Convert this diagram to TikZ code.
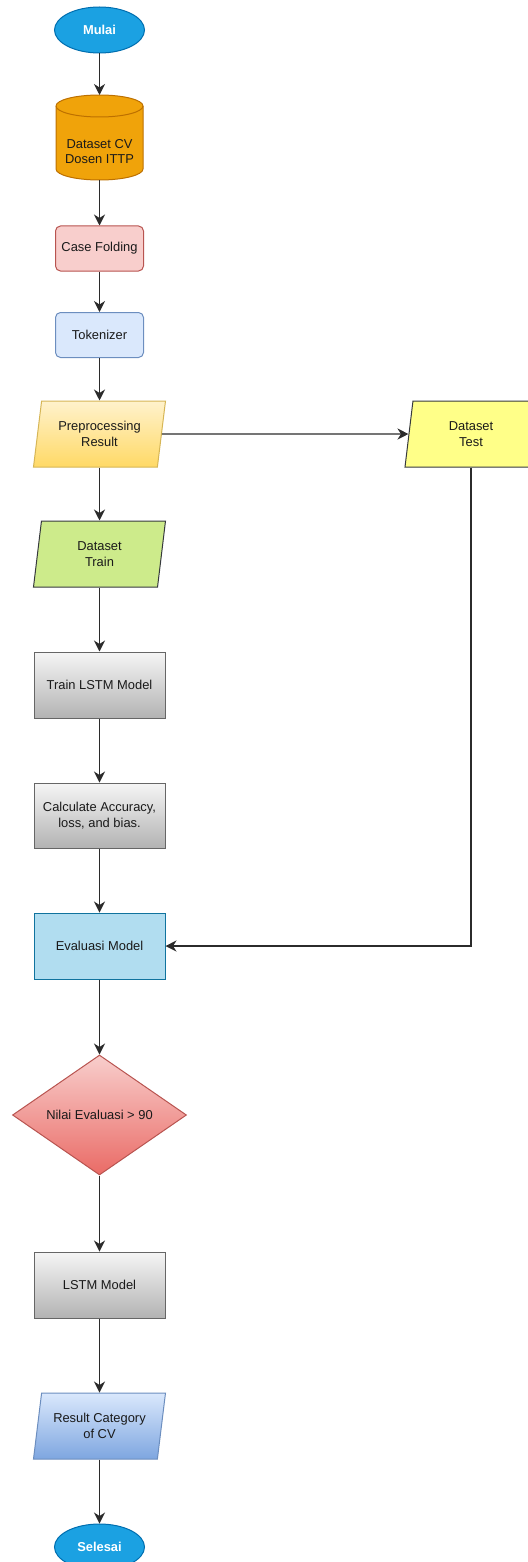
\documentclass[tikz,border=0pt]{standalone}
\usepackage{fontspec}
\setmainfont{Liberation Sans}
\usetikzlibrary{shapes.geometric,arrows.meta}

% palette
\definecolor{termfill}{HTML}{1BA1E2}\definecolor{termline}{HTML}{006EAF}
\definecolor{dbfill}{HTML}{F0A30A}\definecolor{dbline}{HTML}{BD7000}
\definecolor{redfill}{HTML}{F8CECC}\definecolor{redline}{HTML}{B85450}
\definecolor{bluefill}{HTML}{DAE8FC}\definecolor{blueline}{HTML}{6C8EBF}
\definecolor{yelltop}{HTML}{FFF2CC}\definecolor{yellbot}{HTML}{FFD966}\definecolor{yellline}{HTML}{D6B656}
\definecolor{testfill}{HTML}{FFFF88}\definecolor{darkline}{HTML}{36393D}
\definecolor{trainfill}{HTML}{CDEB8B}
\definecolor{graytop}{HTML}{F5F5F5}\definecolor{graybot}{HTML}{B3B3B3}\definecolor{grayline}{HTML}{666666}
\definecolor{evalfill}{HTML}{B1DDF0}\definecolor{evalline}{HTML}{10739E}
\definecolor{diabot}{HTML}{EA6B66}
\definecolor{resbot}{HTML}{7EA6E0}
\definecolor{txt}{HTML}{1A1A1A}
\definecolor{wire}{HTML}{2B2B2B}

\begin{document}
\begin{tikzpicture}[x=1pt,y=1pt,
  every node/.style={font=\fontsize{12.9}{15.5}\selectfont, text=txt, align=center, inner sep=0pt, line width=1pt},
  terminal/.style={ellipse, draw=termline, fill=termfill, minimum width=90pt, minimum height=46pt, text=white, font=\fontsize{12.9}{15.5}\selectfont\bfseries},
  procbox/.style={rectangle, rounded corners=5pt, minimum width=88pt, minimum height=45pt},
  grayproc/.style={rectangle, draw=grayline, top color=graytop, bottom color=graybot, minimum width=131pt, minimum height=66pt},
  iobox/.style={trapezium, trapezium left angle=72, trapezium right angle=108, trapezium stretches body=true, minimum width=132pt, minimum height=66pt},
  decision/.style={diamond, draw=redline, top color=redfill, bottom color=diabot, minimum width=174pt, minimum height=120pt, aspect=1.45},
  flow/.style={draw=wire, line width=1.2pt, -{Stealth[length=11pt,width=11pt,inset=3.5pt]}}
]
\useasboundingbox (0,0) rectangle (527,-1562);

% start and dataset store
\node[terminal] (start) at (99.5,-30) {Mulai};
\node[minimum width=87pt, minimum height=85pt, outer sep=0pt] (data) at (99.5,-137.5) {};
\filldraw[draw=dbline, fill=dbfill, line width=1pt, line join=round]
  ([yshift=-11pt]data.north west) -- ([yshift=11pt]data.south west)
  arc[start angle=180, end angle=360, x radius=43.5pt, y radius=11pt]
  -- ([yshift=-11pt]data.north east)
  arc[start angle=0, end angle=180, x radius=43.5pt, y radius=11pt] -- cycle;
\draw[dbline, line width=1pt] ([yshift=-11pt]data.north west)
  arc[start angle=180, end angle=360, x radius=43.5pt, y radius=11pt];
\node at ([yshift=-14pt]data.center) {Dataset CV\\Dosen ITTP};

% preprocessing
\node[procbox, draw=redline, fill=redfill] (fold) at (99.5,-248.5) {Case Folding};
\node[procbox, draw=blueline, fill=bluefill] (tok) at (99.5,-335) {Tokenizer};
\node[iobox, draw=yellline, top color=yelltop, bottom color=yellbot] (prep) at (99.5,-434) {Preprocessing\\Result};
\node[iobox, draw=darkline, fill=testfill] (test) at (471,-434) {Dataset\\Test};
\node[iobox, draw=darkline, fill=trainfill] (train) at (99.5,-554) {Dataset\\Train};

% training and evaluation
\node[grayproc] (fit) at (99.5,-685) {Train LSTM Model};
\node[grayproc, minimum height=65pt] (calc) at (99.5,-815.5) {Calculate Accuracy,\\loss, and bias.};
\node[rectangle, draw=evalline, fill=evalfill, minimum width=131pt, minimum height=66pt] (eval) at (99.5,-946) {Evaluasi Model};
\node[decision] (check) at (99.5,-1115) {Nilai Evaluasi {>} 90};
\node[grayproc] (model) at (99.5,-1285) {LSTM Model};
\node[iobox, draw=blueline, top color=bluefill, bottom color=resbot] (res) at (99.5,-1426) {Result Category\\of CV};
\node[terminal] (stop) at (99.5,-1547) {Selesai};

% connectors
\draw[flow] (start) -- (data.north);
\draw[flow] (data.south) -- (fold);
\draw[flow] (fold) -- (tok);
\draw[flow] (tok) -- (prep.center |- prep.north);
\draw[flow] (prep.east) -- (test.west);
\draw[flow] (prep.center |- prep.south) -- (train.center |- train.north);
\draw[flow] (train.center |- train.south) -- (fit);
\draw[flow] (fit) -- (calc);
\draw[flow] (calc) -- (eval);
\draw[flow] (test.center |- test.south) |- (eval.east);
\draw[flow] (eval) -- (check);
\draw[flow] (check) -- (model);
\draw[flow] (model) -- (res.center |- res.north);
\draw[flow] (res.center |- res.south) -- (stop);
\end{tikzpicture}
\end{document}
